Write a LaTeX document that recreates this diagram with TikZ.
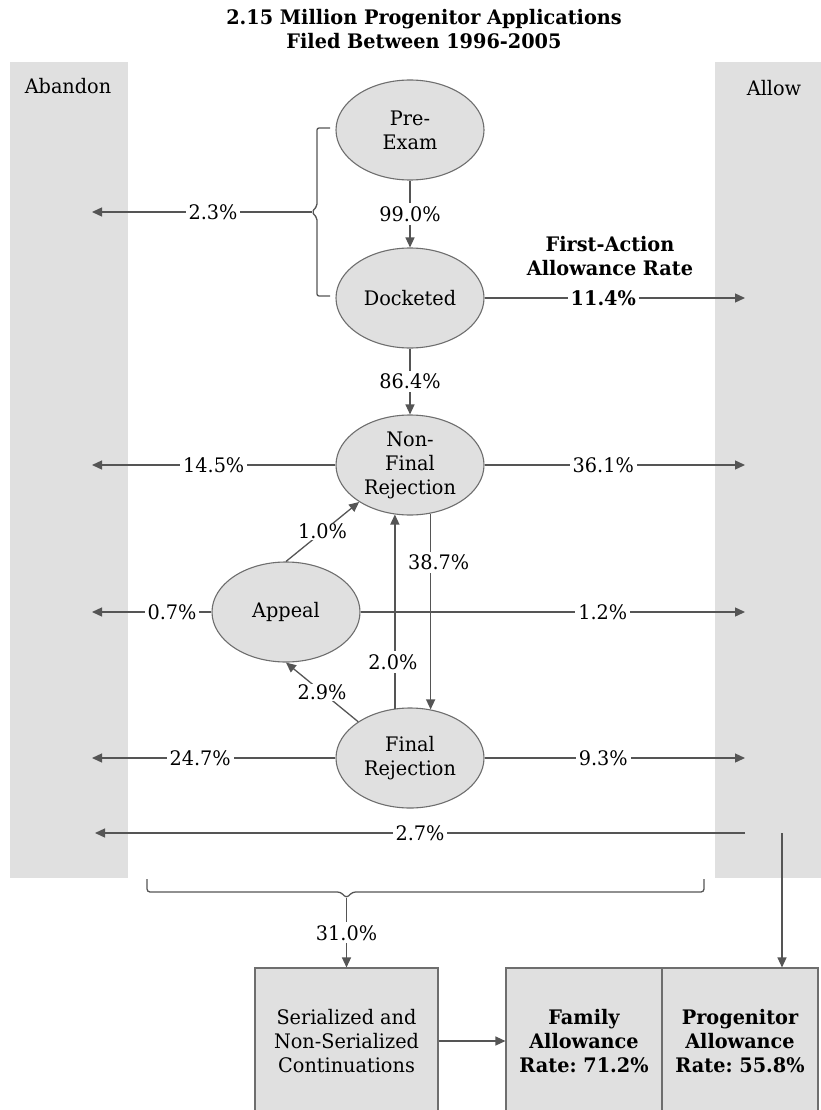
\documentclass[tikz,border=0pt]{standalone}
\usepackage{fontspec}
\setmainfont[FakeStretch=1.07]{DejaVu Serif Condensed}
\frenchspacing
\usetikzlibrary{shapes.geometric,arrows.meta}
\definecolor{panelgray}{HTML}{E0E0E0}
\definecolor{nodegray}{HTML}{E0E0E0}
\definecolor{edgegray}{HTML}{6E6E6E}
\definecolor{arrgray}{HTML}{555555}
\newcommand\myfs{\fontsize{20}{24}\selectfont}
\tikzset{
  ell/.style={ellipse, draw=edgegray, line width=1.1pt, fill=nodegray, minimum width=148pt, minimum height=100pt, inner sep=0pt, align=center, font=\myfs},
  boxnode/.style={rectangle, draw=edgegray, line width=1.1pt, fill=nodegray, minimum height=146pt, inner sep=0pt, align=center, font=\myfs},
  arr/.style={draw=arrgray, line width=1.3pt, -{Triangle[length=10pt,width=9pt]}},
  plain/.style={draw=arrgray, line width=1.3pt},
  lab/.style={fill=white, inner sep=3pt, font=\myfs, text=black},
  txt/.style={font=\myfs, align=center, inner sep=0pt},
}
\begin{document}
\begin{tikzpicture}[x=1pt,y=-1pt]
\useasboundingbox (0,0) rectangle (821,1110);
% panels
\fill[panelgray] (10,62) rectangle (128,878);
\fill[panelgray] (715,62) rectangle (821,878);
% title and headings
\node[txt, font=\myfs\bfseries] (title) at (424,29) {2.15 Million Progenitor Applications\\Filed Between 1996-2005};
\node[txt] (abandon) at (68,86) {Abandon};
\node[txt] (allow) at (774,88) {Allow};
\node[txt, font=\myfs\bfseries] (fa) at (610,256) {First-Action\\Allowance Rate};
% ellipses
\node[ell] (pre) at (410,130) {Pre-\\Exam};
\node[ell] (dock) at (410,298) {Docketed};
\node[ell] (nfr) at (410,465) {Non-\\Final\\Rejection};
\node[ell] (app) at (286,612) {Appeal};
\node[ell] (fr) at (410,758) {Final\\Rejection};
% boxes
\node[boxnode, minimum width=183pt] (ser) at (346.5,1041) {Serialized and\\Non-Serialized\\Continuations};
\node[boxnode, minimum width=156pt, font=\myfs\bfseries] (fam) at (584,1041) {Family\\Allowance\\Rate: 71.2\%};
\node[boxnode, minimum width=156pt, font=\myfs\bfseries] (prog) at (740,1041) {Progenitor\\Allowance\\Rate: 55.8\%};
% free ends
\coordinate (ab23) at (92,212);
\coordinate (brtip) at (312,212);
\coordinate (al114) at (745,298);
\coordinate (ab145) at (92,465);
\coordinate (al361) at (745,465);
\coordinate (ab07) at (92,612);
\coordinate (al12) at (745,612);
\coordinate (ab247) at (92,758);
\coordinate (al93) at (745,758);
\coordinate (al27) at (745,833);
\coordinate (ab27) at (95,833);
\coordinate (allowout) at (782,833);
\coordinate (bracetip) at (346.5,898);
% bracket left of pre-exam / docketed
\draw[plain, rounded corners=2pt] (330,128) -- (317,128) -- (317,206) -- (brtip) -- (317,218) -- (317,296) -- (330,296);
\draw[arr] (brtip) -- node[lab, pos=0.45] {2.3\%} (ab23);
% vertical flow
\draw[arr] (pre) -- node[lab] {99.0\%} (dock);
\draw[arr] (dock) -- node[lab] {86.4\%} (nfr);
\draw[arr] (dock.east) -- node[lab, pos=0.456, font=\myfs\bfseries] {11.4\%} (al114);
% non-final rejection
\draw[arr] (nfr.west) -- node[lab, pos=0.5] {14.5\%} (ab145);
\draw[arr] (nfr.east) -- node[lab, pos=0.456] {36.1\%} (al361);
% appeal
\draw[arr] (app.west) -- node[lab, pos=0.33] {0.7\%} (ab07);
\draw[arr] (app.east) -- node[lab, pos=0.63] {1.2\%} (al12);
\draw[arr] (app.north) -- node[lab, inner sep=1pt] {1.0\%} (nfr.216);
\draw[arr] (fr.145) -- node[lab, inner sep=1pt] {2.9\%} (app.south);
% between non-final and final
\draw[arr] (nfr.-67.4) -- node[lab, pos=0.25, xshift=8pt] {38.7\%} (fr.67.4);
\draw[arr] (fr.107) -- node[lab, pos=0.24, xshift=-2pt] {2.0\%} (nfr.-107);
% final rejection
\draw[arr] (fr.west) -- node[lab, pos=0.556] {24.7\%} (ab247);
\draw[arr] (fr.east) -- node[lab, pos=0.456] {9.3\%} (al93);
% bottom
\draw[arr] (al27) -- node[lab] {2.7\%} (ab27);
\draw[arr] (allowout) -- (allowout |- prog.north);
\draw[plain, rounded corners=3pt] (147,879) -- (147,892) -- (340.5,892) -- (bracetip) -- (352.5,892) -- (704,892) -- (704,879);
\draw[arr] (bracetip) -- node[lab] {31.0\%} (ser.north);
\draw[arr] (ser.east) -- (fam.west);
\end{tikzpicture}
\end{document}
